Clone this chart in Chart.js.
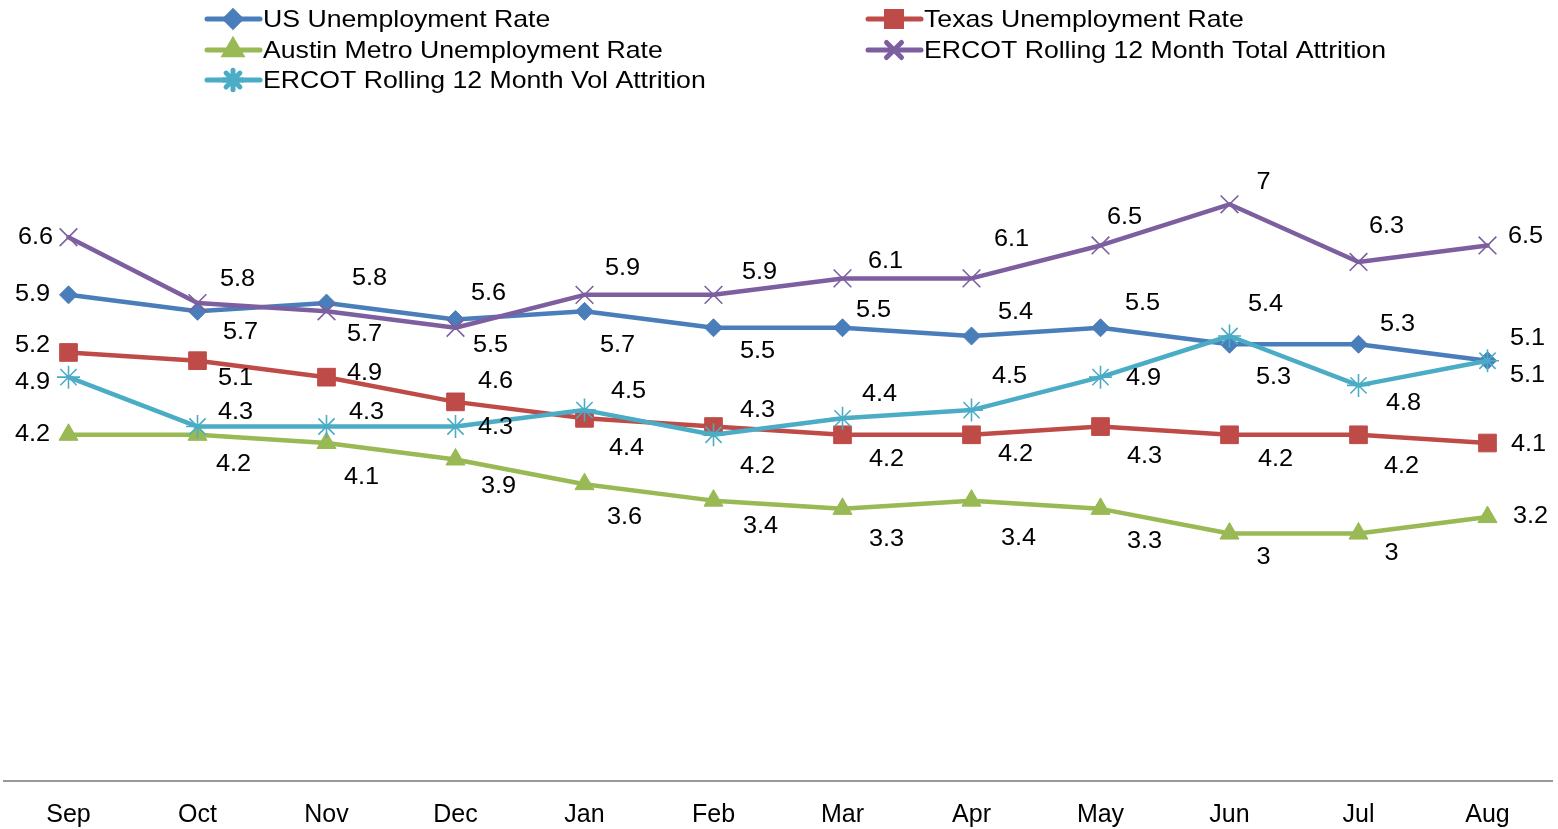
<!DOCTYPE html>
<html>
<head>
<meta charset="utf-8">
<script src="https://cdn.jsdelivr.net/npm/chart.js@4/dist/chart.umd.min.js"></script>
<style>
html, body { margin: 0; padding: 0; background: #fff; }
#wrap { width: 1558px; height: 829px; position: relative; }
</style>
</head>
<body>
<div id="wrap"><canvas id="rateChart"></canvas></div>
<script>
// Dados
const months = ['Sep', 'Oct', 'Nov', 'Dec', 'Jan', 'Feb', 'Mar', 'Apr', 'May', 'Jun', 'Jul', 'Aug'];
const usRate = [5.9, 5.7, 5.8, 5.6, 5.7, 5.5, 5.5, 5.4, 5.5, 5.3, 5.3, 5.1];
const texasRate = [5.2, 5.1, 4.9, 4.6, 4.4, 4.3, 4.2, 4.2, 4.3, 4.2, 4.2, 4.1];
const austinRate = [4.2, 4.2, 4.1, 3.9, 3.6, 3.4, 3.3, 3.4, 3.3, 3, 3, 3.2];
const ercotTotal = [6.6, 5.8, 5.7, 5.5, 5.9, 5.9, 6.1, 6.1, 6.5, 7, 6.3, 6.5];
const ercotVol = [4.9, 4.3, 4.3, 4.3, 4.5, 4.2, 4.4, 4.5, 4.9, 5.4, 4.8, 5.1];

// deslocamento dos rótulos (px) em relação a cada ponto
const usLabelPos = [[-36, 0], [43, 21], [43, -24], [33, -26], [33, 34], [44, 24], [31, -17], [44, -23], [42, -24], [44, 33], [39, -20], [40, -22]];
const texasLabelPos = [[-36, -7], [38, 18], [38, -4], [40, -20], [42, 30], [44, -16], [44, 25], [44, 20], [44, 30], [46, 25], [43, 32], [41, 2]];
const austinLabelPos = [[-36, 0], [36, 30], [35, 35], [43, 27], [40, 33], [47, 26], [44, 31], [47, 38], [44, 33], [34, 24], [33, 20], [43, 0]];
const totalLabelPos = [[-33, 0], [40, -23], [38, 23], [35, 18], [38, -26], [46, -22], [43, -17], [40, -39], [24, -28], [34, -22], [28, -35], [38, -9]];
const volLabelPos = [[-36, 5], [38, -14], [40, -14], [40, 1], [44, -18], [44, 32], [37, -24], [38, -33], [43, 1], [36, -31], [45, 18], [40, 15]];

const FONT = '"Liberation Sans", Arial, sans-serif';

function series(label, data, color, style, radius, order, labelPos) {
    return {
        label: label,
        data: data,
        borderColor: color,
        backgroundColor: color,
        borderWidth: 4.5,
        borderJoinStyle: 'round',
        borderCapStyle: 'round',
        pointStyle: style,
        pointRadius: radius,
        pointHoverRadius: radius,
        pointBorderWidth: (style === 'crossRot' || style === 'star') ? 1.6 : 1,
        pointBackgroundColor: color,
        pointBorderColor: color,
        tension: 0,
        order: order,
        labelPos: labelPos
    };
}

// Rótulos de dados desenhados à mão
const valueLabels = {
    id: 'valueLabels',
    afterDatasetsDraw(chart) {
        const ctx = chart.ctx;
        ctx.save();
        ctx.font = '23px ' + FONT;
        ctx.fillStyle = '#000';
        ctx.textAlign = 'center';
        ctx.textBaseline = 'middle';
        chart.data.datasets.forEach((ds, i) => {
            const meta = chart.getDatasetMeta(i);
            meta.data.forEach((pt, j) => {
                const off = ds.labelPos[j];
                ctx.save();
                ctx.translate(pt.x + off[0], pt.y + off[1]);
                ctx.scale(1.1, 1);
                ctx.fillText(String(ds.data[j]), 0, 0);
                ctx.restore();
            });
        });
        ctx.restore();
    }
};

// Legenda em duas colunas, como no original
const sideLegend = {
    id: 'sideLegend',
    afterDraw(chart) {
        const ctx = chart.ctx;
        const cols = [205, 866];
        const rows = [19, 50, 80];
        ctx.save();
        chart.data.datasets.forEach((ds, i) => {
            const x0 = cols[i % 2];
            const y = rows[Math.floor(i / 2)];
            ctx.strokeStyle = ds.borderColor;
            ctx.lineWidth = 5;
            ctx.lineCap = 'round';
            ctx.beginPath();
            ctx.moveTo(x0 + 2, y);
            ctx.lineTo(x0 + 55, y);
            ctx.stroke();
            ctx.fillStyle = ds.backgroundColor;
            Chart.helpers.drawPoint(ctx, {
                pointStyle: ds.pointStyle,
                rotation: 0,
                radius: ds.pointRadius * 0.85,
                borderWidth: ds.pointBorderWidth
            }, x0 + 28, y);
            ctx.fillStyle = '#000';
            ctx.font = '24px ' + FONT;
            ctx.textAlign = 'left';
            ctx.textBaseline = 'middle';
            ctx.save();
            ctx.translate(x0 + 58, y + 1);
            ctx.scale(1.11, 1);
            ctx.fillText(ds.label, 0, 0);
            ctx.restore();
        });
        ctx.restore();
    }
};

document.addEventListener('DOMContentLoaded', function() {
    const canvas = document.getElementById('rateChart');
    new Chart(canvas, {
        type: 'line',
        data: {
            labels: months,
            datasets: [
                series('US Unemployment Rate', usRate, '#4A7EBB', 'rectRot', 9, 5, usLabelPos),
                series('Texas Unemployment Rate', texasRate, '#BE4B48', 'rect', 12.5, 4, texasLabelPos),
                series('Austin Metro Unemployment Rate', austinRate, '#98B954', 'triangle', 11, 3, austinLabelPos),
                series('ERCOT Rolling 12 Month Total Attrition', ercotTotal, '#7D5FA0', 'crossRot', 12.5, 2, totalLabelPos),
                series('ERCOT Rolling 12 Month Vol Attrition', ercotVol, '#4BACC6', 'star', 11.5, 1, volLabelPos)
            ]
        },
        options: {
            responsive: true,
            maintainAspectRatio: false,
            animation: false,
            layout: { autoPadding: false, padding: { left: 4, right: 6, top: 122, bottom: -21 } },
            plugins: {
                legend: { display: false },
                tooltip: { enabled: false }
            },
            scales: {
                x: {
                    offset: true,
                    grid: { display: false, drawTicks: false },
                    border: { display: true, color: '#999999', width: 2 },
                    ticks: {
                        color: '#000',
                        padding: 21,
                        font: { family: FONT, size: 25, lineHeight: 1.1 }
                    }
                },
                y: {
                    display: false,
                    min: 0,
                    max: 8
                }
            }
        },
        plugins: [valueLabels, sideLegend]
    });
});
</script>
</body>
</html>
